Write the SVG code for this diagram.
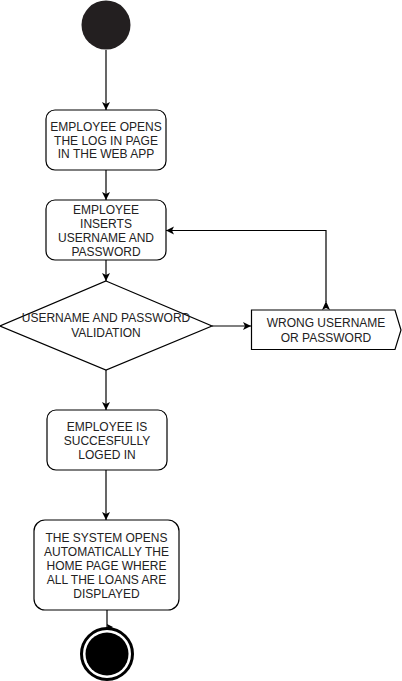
<svg xmlns="http://www.w3.org/2000/svg" width="402" height="681" viewBox="0 0 402 681">
<style>
.box{fill:#fff;stroke:#000;stroke-width:1.2}
.ln{fill:none;stroke:#000;stroke-width:1.2}
text{font-family:"Liberation Sans",Arial,sans-serif;font-size:12px;fill:#222;text-anchor:middle}
</style>
<defs>
<marker id="ah" markerWidth="10" markerHeight="10" refX="8" refY="4" orient="auto" markerUnits="userSpaceOnUse">
<path d="M0,0 L8,4 L0,8 L2,4 Z" fill="#000"/>
</marker>
</defs>
<rect width="402" height="681" fill="#fff"/>
<g id="connectors">
<path class="ln" d="M106,50 V110" marker-end="url(#ah)"/>
<path class="ln" d="M106,170 V200" marker-end="url(#ah)"/>
<path class="ln" d="M106,260 V281" marker-end="url(#ah)"/>
<path class="ln" d="M212,326 H251" marker-end="url(#ah)"/>
<path class="ln" d="M326,302 V230.5 H166" marker-end="url(#ah)"/>
<path d="M322,310 L326,301 L330,310 L326,308 Z" fill="#000"/>
<path class="ln" d="M106,370 V410" marker-end="url(#ah)"/>
<path class="ln" d="M106,470 V520" marker-end="url(#ah)"/>
<path class="ln" d="M107,610 V628"/>
<path d="M107,624 L113,627 L108,630 Z" fill="#000"/>
</g>
<g id="start"><circle cx="106" cy="25" r="24.5" fill="#231f20"/></g>
<g id="n1">
<rect class="box" x="46" y="110" width="120" height="60" rx="9"/>
<text x="106" y="131">EMPLOYEE OPENS</text>
<text x="106" y="145">THE LOG IN PAGE</text>
<text x="106" y="158">IN THE WEB APP</text>
</g>
<g id="n2">
<rect class="box" x="46" y="200" width="120" height="60" rx="9"/>
<text x="106" y="214">EMPLOYEE</text>
<text x="106" y="227.5">INSERTS</text>
<text x="106" y="242">USERNAME AND</text>
<text x="106" y="256">PASSWORD</text>
</g>
<g id="decision">
<path class="box" d="M106,281 L212,326 L106,370 L0,326 Z"/>
<text x="106" y="322">USERNAME AND PASSWORD</text>
<text x="106" y="337">VALIDATION</text>
</g>
<g id="wrong">
<path class="box" d="M251.5,310 H395 L401,330 L395,349.5 H251.5 Z"/>
<text x="326" y="327">WRONG USERNAME</text>
<text x="326" y="342">OR PASSWORD</text>
</g>
<g id="n3">
<rect class="box" x="47" y="410" width="120" height="60" rx="9"/>
<text x="107" y="431">EMPLOYEE IS</text>
<text x="107" y="445">SUCCESFULLY</text>
<text x="107" y="459">LOGED IN</text>
</g>
<g id="n4">
<rect class="box" x="34" y="520" width="145" height="90" rx="11"/>
<text x="106.5" y="542">THE SYSTEM OPENS</text>
<text x="106.5" y="556">AUTOMATICALLY THE</text>
<text x="106.5" y="570">HOME PAGE WHERE</text>
<text x="106.5" y="584">ALL THE LOANS ARE</text>
<text x="106.5" y="598">DISPLAYED</text>
</g>
<g id="end">
<circle cx="107" cy="654" r="25.5" fill="#fff" stroke="#000" stroke-width="3"/>
<circle cx="107" cy="654" r="21.5" fill="#000"/>
</g>
</svg>
